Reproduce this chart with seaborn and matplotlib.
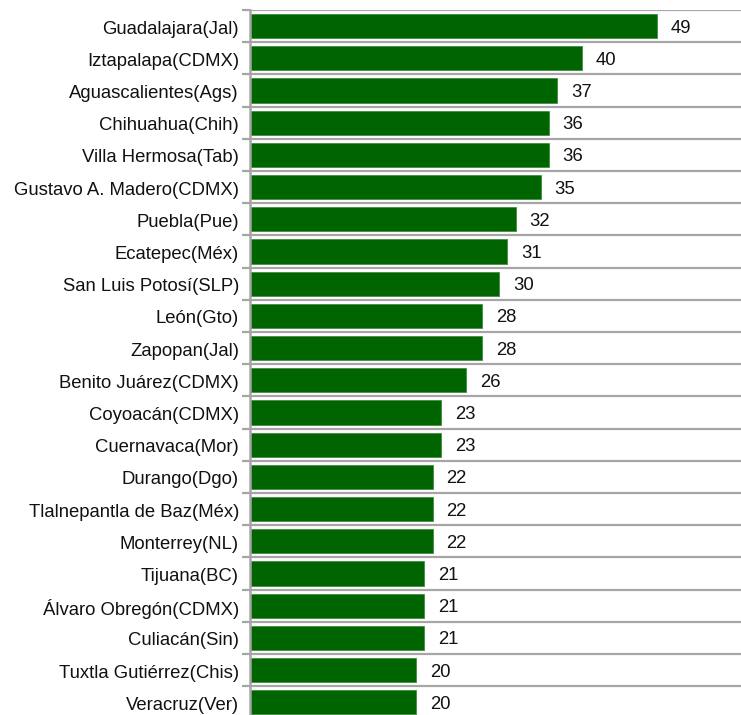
import matplotlib
matplotlib.use("Agg")
import matplotlib.pyplot as plt
import matplotlib.transforms as mtransforms
import seaborn as sns
import pandas as pd
import numpy as np

cities = [
    "Guadalajara(Jal)", "Iztapalapa(CDMX)", "Aguascalientes(Ags)", "Chihuahua(Chih)",
    "Villa Hermosa(Tab)", "Gustavo A. Madero(CDMX)", "Puebla(Pue)", "Ecatepec(Méx)",
    "San Luis Potosí(SLP)", "León(Gto)", "Zapopan(Jal)", "Benito Juárez(CDMX)",
    "Coyoacán(CDMX)", "Cuernavaca(Mor)", "Durango(Dgo)", "Tlalnepantla de Baz(Méx)",
    "Monterrey(NL)", "Tijuana(BC)", "Álvaro Obregón(CDMX)", "Culiacán(Sin)",
    "Tuxtla Gutiérrez(Chis)", "Veracruz(Ver)",
]
counts = [49, 40, 37, 36, 36, 35, 32, 31, 30, 28, 28, 26, 23, 23, 22, 22, 22, 21, 21, 21, 20, 20]

df = pd.DataFrame({"city": cities, "count": counts})

sns.set_style("white")
plt.rcParams["font.family"] = ["Liberation Sans", "DejaVu Sans"]

W, H = 741, 715
fig = plt.figure(figsize=(W / 100, H / 100), dpi=100)
row_px = 32.2
n = len(cities)
top_px = 10
ax_h = n * row_px
ax = fig.add_axes([250 / W, 1 - (top_px + ax_h) / H, 1 - 250 / W, ax_h / H])

sns.barplot(data=df, x="count", y="city", orient="h", color="#006400",
            saturation=1, width=0.75, edgecolor="#3f8f3f", linewidth=0.6, ax=ax)

ax.set_xlim(0, (W - 250) / 8.3)
ax.set_ylim(n - 0.5, -0.5)
ax.set_xlabel("")
ax.set_ylabel("")
ax.set_xticks([])

# category boundaries: gridlines plus short outward ticks
ax.set_yticks(np.arange(-0.5, n, 1.0), minor=True)
ax.yaxis.grid(True, which="minor", color="#a6a6a6", linewidth=1.6)
ax.tick_params(axis="y", which="minor", length=6, width=1.6, color="#a6a6a6", left=True)
ax.tick_params(axis="y", which="major", length=0, pad=8, labelsize=13.3, labelcolor="#111111")
ax.set_axisbelow(True)

for side in ["top", "right", "bottom"]:
    ax.spines[side].set_visible(False)
ax.spines["left"].set_color("#a6a6a6")
ax.spines["left"].set_linewidth(1.8)

# nudge category labels slightly downward
down1 = mtransforms.ScaledTranslation(0, -1 / 100, fig.dpi_scale_trans)
for lbl in ax.get_yticklabels():
    lbl.set_transform(lbl.get_transform() + down1)

texts = ax.bar_label(ax.containers[0], labels=[str(v) for v in counts], padding=10,
                     fontsize=13.3, color="#111111")
for t in texts:
    t.xyann = (10, -1.5)

fig.savefig("out.png", dpi=100)
